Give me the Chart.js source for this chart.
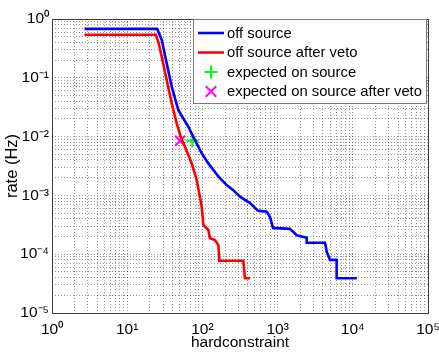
<!DOCTYPE html>
<html><head><meta charset="utf-8">
<script src="https://cdn.jsdelivr.net/npm/chart.js@4/dist/chart.umd.min.js"></script>
<style>html,body{margin:0;padding:0;background:#fff;}canvas{display:block;}</style>
</head><body>
<canvas id="c" width="439" height="352"></canvas>
<script>
// ---- data ----
const offSourceX = [2.7, 25, 28.8, 33.5, 39.1, 47.8, 65, 79.7, 98, 120, 163, 210, 255, 316, 430, 548, 716, 793, 869, 1460, 1800, 2440, 2440, 4270, 4500, 4980, 6100, 6100, 11300];
const offSourceY = [0.68, 0.68, 0.44, 0.177, 0.0706, 0.0283, 0.0147, 0.0087, 0.0052, 0.0035, 0.0021, 0.0015, 0.00124, 0.00095, 0.00074, 0.00055, 0.00053, 0.00043, 0.00028, 0.00027, 0.00021, 0.00019, 0.000157, 0.000157, 0.00011, 0.00008, 0.00008, 0.000039, 0.000039];
const vetoX = [2.7, 24, 25.9, 28.8, 33.5, 39.1, 45.5, 51.4, 58.7, 72.1, 84, 98, 103, 120, 126, 147, 163, 168, 350, 368, 430];
const vetoY = [0.54, 0.54, 0.41, 0.229, 0.092, 0.0368, 0.0168, 0.0100, 0.0067, 0.0035, 0.00183, 0.00064, 0.000314, 0.000258, 0.000186, 0.000174, 0.000143, 0.0000776, 0.0000776, 0.0000389, 0.0000389];
const expectedX = [73.4];
const expectedY = [0.0085];
const expectedVetoX = [50.4];
const expectedVetoY = [0.0085];
const xDecades = [0, 1, 2, 3, 4, 5];
const yDecades = [-5, -4, -3, -2, -1, 0];
const seriesLabels = ['off source', 'off source after veto', 'expected on source', 'expected on source after veto'];
const xTitle = 'hardconstraint';
const yTitle = 'rate (Hz)';

// ---- helpers ----
const SUP = {'0':'\u2070','1':'\u00B9','2':'\u00B2','3':'\u00B3','4':'\u2074','5':'\u2075','6':'\u2076','7':'\u2077','8':'\u2078','9':'\u2079','-':'\u207B'};
function powLabel(e){ return '10' + String(e).split('').map(c => SUP[c]).join(''); }
function logTicks(decs){
  const t = [];
  for (let i = 0; i < decs.length - 1; i++) for (let m = 1; m < 10; m++) t.push(m * Math.pow(10, decs[i]));
  t.push(Math.pow(10, decs[decs.length - 1]));
  return t;
}
function tickLabel(v){
  const e = Math.log10(v), r = Math.round(e);
  return Math.abs(e - r) < 1e-6 ? powLabel(r) : '';
}
function pts(xs, ys){ return xs.map((x, i) => ({x, y: ys[i]})); }

const FONT = 'Liberation Sans, Arial, Helvetica, sans-serif';
const gridCol = 'rgba(0,0,0,0.4)';

const boxPlugin = {
  id: 'box',
  beforeDatasetsDraw(chart){
    const {ctx, chartArea: a} = chart;
    ctx.save();
    ctx.strokeStyle = '#3c3c3c';
    ctx.lineWidth = 1;
    ctx.strokeRect(Math.round(a.left) + 0.5, Math.round(a.top) + 0.5, Math.round(a.right - a.left), Math.round(a.bottom - a.top));
    ctx.restore();
  }
};

const legendPlugin = {
  id: 'boxLegend',
  afterDraw(chart){
    const {ctx, chartArea: a} = chart;
    const x0 = 193, y0 = a.top, w = 233, h = 84;
    ctx.save();
    ctx.fillStyle = '#fff';
    ctx.fillRect(x0, y0, w, h);
    ctx.strokeStyle = '#7a7a7a';
    ctx.lineWidth = 1;
    ctx.strokeRect(x0 + 0.5, y0 + 0.5, w, h);
    ctx.font = '14.8px ' + FONT;
    ctx.textBaseline = 'middle';
    ctx.fillStyle = '#000';
    chart.data.datasets.forEach((ds, i) => {
      const cy = y0 + 14 + i * 19.5;
      if (ds.showLine) {
        ctx.strokeStyle = ds.borderColor;
        ctx.lineWidth = ds.borderWidth;
        ctx.beginPath(); ctx.moveTo(x0 + 5, cy); ctx.lineTo(x0 + 31, cy); ctx.stroke();
      } else {
        ctx.strokeStyle = ds.pointBorderColor;
        ctx.lineWidth = ds.pointBorderWidth;
        const cx = x0 + 18, r = ds.pointRadius;
        ctx.beginPath();
        if (ds.pointStyle === 'cross') {
          ctx.moveTo(cx - r, cy); ctx.lineTo(cx + r, cy);
          ctx.moveTo(cx, cy - r); ctx.lineTo(cx, cy + r);
        } else {
          const d = r * 0.75;
          ctx.moveTo(cx - d, cy - d); ctx.lineTo(cx + d, cy + d);
          ctx.moveTo(cx - d, cy + d); ctx.lineTo(cx + d, cy - d);
        }
        ctx.stroke();
      }
      ctx.fillStyle = '#000';
      ctx.fillText(ds.label, x0 + 34, cy + 0.5);
    });
    ctx.restore();
  }
};

new Chart(document.getElementById('c'), {
  type: 'line',
  data: {
    datasets: [
      {label: seriesLabels[0], data: pts(offSourceX, offSourceY), showLine: true, borderColor: 'rgb(0,0,255)', borderWidth: 2.6, pointRadius: 0, fill: false, tension: 0},
      {label: seriesLabels[1], data: pts(vetoX, vetoY), showLine: true, borderColor: 'rgb(255,0,0)', borderWidth: 2.6, pointRadius: 0, fill: false, tension: 0},
      {label: seriesLabels[2], data: pts(expectedX, expectedY), showLine: false, pointStyle: 'cross', pointRadius: 6.5, pointBorderWidth: 2, pointBorderColor: 'rgb(0,255,0)', borderColor: 'rgb(0,255,0)', pointBackgroundColor: 'rgb(0,255,0)'},
      {label: seriesLabels[3], data: pts(expectedVetoX, expectedVetoY), showLine: false, pointStyle: 'crossRot', pointRadius: 7, pointBorderWidth: 2, pointBorderColor: 'rgb(255,0,255)', borderColor: 'rgb(255,0,255)', pointBackgroundColor: 'rgb(255,0,255)'}
    ]
  },
  options: {
    responsive: false,
    animation: false,
    devicePixelRatio: 1,
    layout: {padding: {top: 19, right: 11, left: 0, bottom: 0}},
    plugins: {legend: {display: false}, tooltip: {enabled: false}},
    scales: {
      x: {
        type: 'logarithmic',
        min: Math.pow(10, xDecades[0]), max: Math.pow(10, xDecades[xDecades.length - 1]),
        afterBuildTicks: s => { s.ticks = logTicks(xDecades).map(v => ({value: v})); },
        afterFit: s => { s.height = 39; s.paddingLeft = 0; s.paddingRight = 0; },
        ticks: {autoSkip: false, maxRotation: 0, padding: 7, color: '#000', font: {family: FONT, size: 15.5}, callback: v => tickLabel(v)},
        grid: {color: gridCol, lineWidth: 1, drawTicks: false},
        border: {display: false, dash: [1, 2]},
        title: {display: true, text: xTitle, color: '#000', font: {family: FONT, size: 15.5}, padding: {top: 0, bottom: 0}}
      },
      y: {
        type: 'logarithmic',
        min: Math.pow(10, yDecades[0]), max: Math.pow(10, yDecades[yDecades.length - 1]),
        afterBuildTicks: s => { s.ticks = logTicks(yDecades).map(v => ({value: v})); },
        afterFit: s => { s.width = 52; s.paddingTop = 0; s.paddingBottom = 0; },
        ticks: {autoSkip: false, padding: 3, color: '#000', font: {family: FONT, size: 15.5}, callback: v => tickLabel(v)},
        grid: {color: gridCol, lineWidth: 1, drawTicks: false},
        border: {display: false, dash: [1, 2]},
        title: {display: true, text: yTitle, color: '#000', font: {family: FONT, size: 16.5}, padding: {top: 3, bottom: 0}}
      }
    }
  },
  plugins: [boxPlugin, legendPlugin]
});
</script>
</body></html>
